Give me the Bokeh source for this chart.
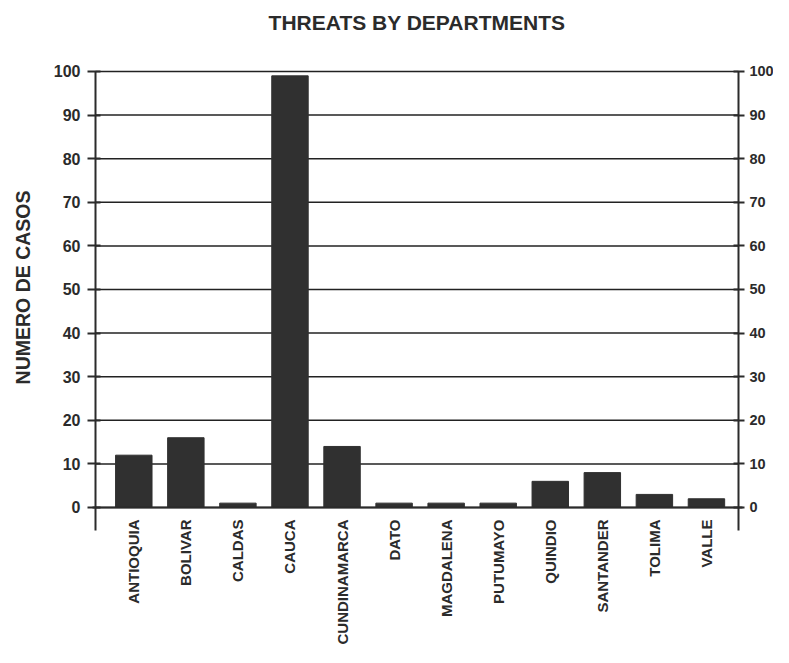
import math
from bokeh.plotting import figure
from bokeh.models import Range1d, LinearAxis, FixedTicker, Label
from bokeh.embed import file_html
from bokeh.resources import INLINE

departments = ["ANTIOQUIA", "BOLIVAR", "CALDAS", "CAUCA", "CUNDINAMARCA", "DATO",
               "MAGDALENA", "PUTUMAYO", "QUINDIO", "SANTANDER", "TOLIMA", "VALLE"]
casos = [12, 16, 1, 99, 14, 1, 1, 1, 6, 8, 3, 2]
y_ticks = [0, 10, 20, 30, 40, 50, 60, 70, 80, 90, 100]
title_text = "THREATS BY DEPARTMENTS"
y_title = "NUMERO DE CASOS"

FONT = "Liberation Sans"
INK = "#2b2b2b"

idx = list(range(len(departments)))

# plot frame fills the whole figure; axes sit at fixed positions inside it
X_LEFT, X_RIGHT = -0.7357, 11.615
p = figure(width=773, height=647, output_backend="svg", toolbar_location=None,
           x_range=Range1d(-2.5605, 12.288), y_range=Range1d(-32.11, 116.28),
           min_border_left=0, min_border_right=0, min_border_top=0, min_border_bottom=0)
p.outline_line_color = None
p.background_fill_color = "white"
p.border_fill_color = "white"
p.xgrid.visible = False
p.ygrid.visible = False

# horizontal rules between the two value axes
p.segment(x0=[X_LEFT] * len(y_ticks), x1=[X_RIGHT] * len(y_ticks), y0=y_ticks, y1=y_ticks,
          line_color="#222222", line_width=1.5)

p.vbar(x=idx, top=casos, bottom=0, width=0.7, fill_color="#303030", line_color="#303030")

tk = FixedTicker(ticks=y_ticks, minor_ticks=[])

def style_y(ax, loc):
    ax.fixed_location = loc
    ax.ticker = tk
    ax.bounds = (-5.28, 100)
    ax.axis_line_width = 2
    ax.axis_line_color = INK
    ax.major_tick_line_color = INK
    ax.major_tick_line_width = 2
    ax.major_tick_out = 8
    ax.major_tick_in = 5
    ax.minor_tick_line_color = None
    ax.major_label_text_font = FONT
    ax.major_label_text_font_size = "16px"
    ax.major_label_text_font_style = "bold"
    ax.major_label_text_color = INK
    ax.major_label_standoff = 7

yl = p.yaxis[0]
style_y(yl, X_LEFT)

yr = LinearAxis()
style_y(yr, X_RIGHT)
yr.major_tick_out = 6
yr.major_label_text_font_size = "14.5px"
yr.major_label_standoff = 5
p.add_layout(yr, "right")

# axis title, centred on the 0-100 scale
yt = LinearAxis(fixed_location=X_LEFT, bounds=(1, 100), ticker=FixedTicker(ticks=[], minor_ticks=[]))
yt.axis_line_color = None
yt.major_tick_line_color = None
yt.minor_tick_line_color = None
yt.axis_label = y_title
yt.axis_label_text_font = FONT
yt.axis_label_text_font_size = "19.5px"
yt.axis_label_text_font_style = "bold"
yt.axis_label_text_color = INK
yt.axis_label_standoff = 62
p.add_layout(yt, "left")

xa = p.xaxis[0]
xa.fixed_location = 0
xa.bounds = (-0.79, 11.69)
xa.ticker = FixedTicker(ticks=idx, minor_ticks=[])
xa.major_label_overrides = {i: d for i, d in zip(idx, departments)}
xa.major_label_orientation = math.pi / 2
xa.major_tick_line_color = None
xa.minor_tick_line_color = None
xa.axis_line_width = 2
xa.axis_line_color = INK
xa.major_label_text_font = FONT
xa.major_label_text_font_size = "15px"
xa.major_label_text_font_style = "bold"
xa.major_label_text_color = INK
xa.major_label_standoff = 6

p.add_layout(Label(x=(X_LEFT + X_RIGHT) / 2, y=111.2, text=title_text,
                   text_align="center", text_baseline="middle",
                   text_font=FONT, text_font_size="21px", text_font_style="bold",
                   text_color=INK))

open("out.html", "w").write(file_html(p, INLINE))
